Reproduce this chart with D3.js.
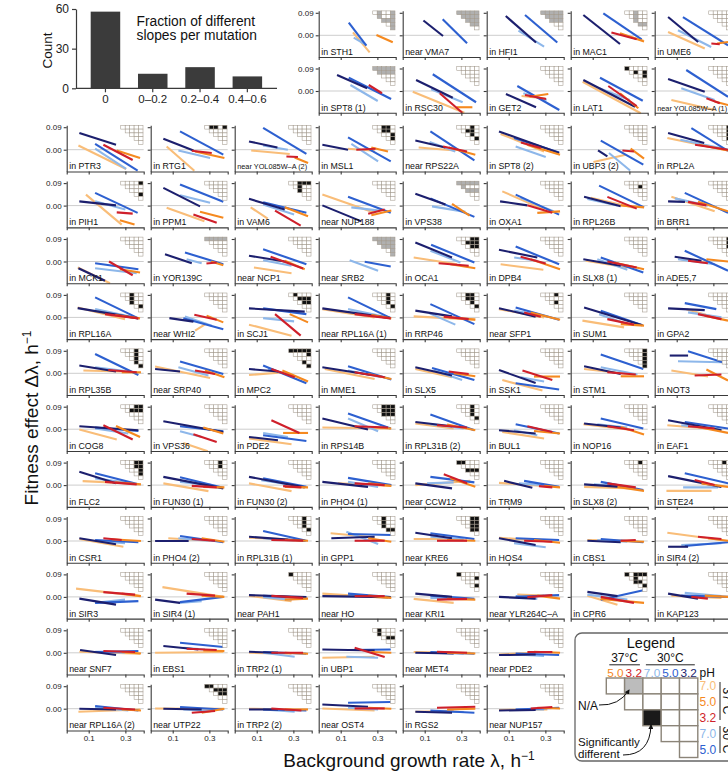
<!DOCTYPE html>
<html><head><meta charset="utf-8">
<script src="https://cdn.jsdelivr.net/npm/d3@7"></script>
<style>
body{margin:0;background:#fff;}
svg{display:block;font-family:"Liberation Sans",Arial,Helvetica,sans-serif;}
</style>
</head><body>
<svg id="chart" width="728" height="777"></svg>
<script>
// ---------------- DATA ----------------
const conditionTemps = ["37°C","37°C","37°C","30°C","30°C","30°C"];
const conditionPH    = ["7.0","5.0","3.2","7.0","5.0","3.2"];

const histCategories = ["0","0–0.2","0.2–0.4","0.4–0.6"];
const histCounts = [58, 11, 16, 9];

const mutations = [
 "in STH1","near VMA7","in HFI1","in MAC1","in UME6",
 "in SPT8 (1)","in RSC30","in GET2","in LAT1","near YOL085W–A (1)",
 "in PTR3","in RTG1","near YOL085W–A (2)","in MSL1","near RPS22A","in SPT8 (2)","in UBP3 (2)","in RPL2A",
 "in PIH1","in PPM1","in VAM6","near NUP188","in VPS38","in OXA1","in RPL26B","in BRR1",
 "in MCK1","in YOR139C","near NCP1","near SRB2","in OCA1","in DPB4","in SLX8 (1)","in ADE5,7",
 "in RPL16A","near WHI2","in SCJ1","near RPL16A (1)","in RRP46","near SFP1","in SUM1","in GPA2",
 "in RPL35B","near SRP40","in MPC2","in MME1","in SLX5","in SSK1","in STM1","in NOT3",
 "in COG8","in VPS36","in PDE2","in RPS14B","in RPL31B (2)","in BUL1","in NOP16","in EAF1",
 "in FLC2","in FUN30 (1)","in FUN30 (2)","in PHO4 (1)","near CCW12","in TRM9","in SLX8 (2)","in STE24",
 "in CSR1","in PHO4 (2)","in RPL31B (1)","in GPP1","near KRE6","in HOS4","in CBS1","in SIR4 (2)",
 "in SIR3","in SIR4 (1)","near PAH1","near HO","near KRI1","near YLR264C–A","in CPR6","in KAP123",
 "near SNF7","in EBS1","in TRP2 (1)","in UBP1","near MET4","near PDE2",
 "near RPL16A (2)","near UTP22","in TRP2 (2)","near OST4","in RGS2","near NUP157"
];

// per mutation, per condition (order of conditionTemps/PH): [x0, x1, y0, y1] or null
const N = null;
const fits = [
 [[.167,.258,.012,-.068],[.295,.384,.001,-.028],N,[.171,.24,-.009,-.039],[.144,.24,.051,-.041],N],
 [N,N,N,N,[.198,.331,.064,-.032],[.093,.2,.059,-.003]],
 [N,N,N,[.153,.293,.019,-.045],[.189,.365,.081,-.029],[.084,.249,.077,-.029]],
 [[.267,.376,.001,-.021],[.249,.38,.008,-.025],[.202,.34,.011,-.016],N,[.158,.367,.088,-.016],[.049,.249,.081,-.035]],
 [[.053,.253,.013,-.053],[.32,.38,-.033,-.027],[.289,.335,-.033,-.036],[.107,.288,.02,-.047],[.134,.38,.073,-.04],[.053,.217,.073,-.027]],
 [N,N,[.253,.325,.024,-.009],[.153,.302,.024,-.04],[.144,.375,.053,-.032],[.08,.244,.064,.011]],
 [[.035,.316,-.003,-.087],[.273,.36,-.065,-.065],[.182,.305,-.009,-.087],[.135,.307,.007,-.045],[.144,.38,.067,-.045],[.053,.253,.044,-.027]],
 [[.17,.30,-.02,-.03],[.213,.316,-.023,-.012],[.189,.304,-.016,-.032],[.18,.307,-.009,-.036],[.147,.376,.02,-.076],[.085,.249,-.012,-.065]],
 [[.045,.362,.037,-.089],[.249,.349,-.009,-.069],[.185,.34,.02,-.06],[.136,.302,.011,-.036],[.14,.373,.053,-.039],[.049,.331,.044,-.063]],
 [[.071,.307,-.036,-.076],[.307,.38,-.042,-.056],[.262,.335,-.029,-.049],[.125,.307,.011,-.036],[.152,.38,.084,-.023],[.053,.253,.048,-.003]],
 [[.044,.304,.017,-.077],[.253,.38,-.003,-.033],[.18,.34,.02,-.041],[.135,.304,.004,-.077],[.135,.367,.023,-.084],[.049,.249,.067,.02]],
 [[.067,.218,.013,-.084],[.222,.382,-.007,-.033],[.204,.313,-.004,-.013],[.131,.304,-.003,-.033],[.14,.376,.073,-.02],[.049,.213,.044,-.003]],
 [[.07,.28,-.003,-.017],[.307,.38,-.031,-.053],[.262,.325,-.027,-.029],[.135,.27,.017,0],[.135,.371,.087,-.017],[.058,.213,.033,.009]],
 [[.14,.285,.004,-.004],[.267,.358,.009,-.007],[.185,.29,0,.004],[.158,.304,.023,-.047],[.14,.373,.049,-.047],[0,.14,.02,0]],
 [[.067,.267,.009,-.003],[.231,.376,.009,-.02],[.2,.331,.013,-.007],[.127,.267,.031,-.007],[.131,.371,.073,-.043],[.049,.213,.037,.009]],
 [[.056,.293,.063,-.007],[.202,.38,.02,-.02],[.167,.275,.029,.007],[.138,.302,.013,-.029],[.129,.375,.047,-.011],[.047,.375,.073,-.013]],
 [[.104,.28,-.049,-.02],[.307,.38,.004,-.036],[.262,.325,-.003,-.007],[.189,.304,-.013,-.083],[.144,.376,.036,-.06],[.129,.18,-.003,-.027]],
 [[.049,.36,.047,0],[.22,.38,.02,-.003],[.2,.38,.02,0],[.12,.38,.04,0],[.18,.38,.086,-.005],[.053,.25,.067,.027]],
 [[.085,.28,.044,-.076],[.27,.35,-.059,-.076],[.253,.34,-.027,-.032],[.135,.3,.017,-.016],[.135,.367,.051,-.029],[.049,.249,.017,.001]],
 [[.067,.273,-.009,-.063],[.249,.376,-.025,-.049],[.213,.34,-.036,-.069],[.14,.304,.041,.011],[.14,.376,.084,.015],[.049,.249,.071,-.003]],
 [[.067,.16,-.007,-.052],[.253,.38,-.007,-.043],[.2,.34,-.02,-.08],[.135,.304,.004,-.036],[.135,.371,.013,-.029],[.058,.253,.027,-.016]],
 [[0,.285,.044,-.029],[.267,.376,-.039,-.02],[.25,.34,-.033,-.016],[.158,.313,-.007,-.02],[.14,.373,.035,-.029],[0,.213,.001,-.063]],
 [N,[.249,.345,.007,-.04],N,[.14,.322,-.003,-.025],[.131,.371,.029,-.045],[.049,.213,.047,.004]],
 [[.065,.293,.057,-.016],[.256,.38,-.029,-.023],[.202,.338,.001,-.029],[.165,.347,.031,-.023],[.138,.375,.044,-.036],[.053,.202,.017,.001]],
 [[.089,.325,.031,-.009],[.253,.38,.001,-.007],[.18,.34,.035,-.012],[.071,.235,.027,.001],[.135,.38,.08,-.007],[.053,.253,.035,-.003]],
 [[.071,.307,.035,-.023],[.216,.38,.015,-.023],[.162,.262,.015,.001],[.09,.27,.029,0],[.144,.38,.051,-.029],[.053,.145,.017,.015]],
 [[.04,.216,-.024,-.087],[.27,.38,-.031,-.044],[.211,.34,0,-.055],[.135,.362,-.027,-.047],[.135,.371,-.007,-.031],[.044,.189,-.027,-.077]],
 [N,[.31,.376,0,-.015],[.284,.34,-.008,-.004],[.176,.258,.009,-.007],[.167,.376,.036,-.011],[.058,.204,.029,-.007]],
 [[.085,.29,-.024,-.047],[.253,.362,.003,-.031],[.176,.353,.019,-.028],[.135,.29,.005,-.017],[.135,.371,.049,-.011],[.058,.253,.023,0]],
 [N,N,N,[.149,.304,.005,-.037],[.231,.373,-.001,-.02],N],
 [[.04,.276,.016,-.011],[.24,.376,-.011,-.027],[.176,.34,-.007,-.017],[.131,.295,.043,-.004],[.135,.371,.067,-.004],[.049,.249,.076,.016]],
 [[.056,.289,-.011,-.033],[.22,.38,.009,-.031],[.165,.302,.019,-.008],[.13,.256,.016,.003],[.138,.375,.06,-.011],[.047,.256,.047,.016]],
 [[.062,.289,.003,-.024],[.216,.38,-.004,-.031],[.18,.34,0,-.024],[.125,.289,.009,-.033],[.144,.376,.016,-.044],[.049,.253,.009,-.017]],
 [[.125,.27,.009,-.004],[.262,.38,.009,0],[.162,.27,.003,-.007],[.107,.307,.009,-.011],[.144,.38,.043,-.037],[.089,.235,.019,.003]],
 [[.04,.298,.04,-.007],[.244,.38,.009,-.004],[.189,.371,.013,-.004],[.135,.371,.033,-.004],[.135,.371,.08,-.004],[.04,.371,.037,-.004]],
 [[.222,.285,-.053,-.024],[.285,.376,.007,-.02],[.218,.34,.011,-.009],[.167,.313,.004,-.033],[.158,.376,-.003,-.047],[.082,.213,-.003,-.017]],
 [[.058,.29,-.029,-.073],[.28,.38,.013,-.02],[.2,.34,.013,-.073],[.135,.304,-.003,-.016],[.135,.371,.036,.013],[.058,.362,.036,.023]],
 [[0,.285,.033,0],[.267,.376,.009,-.004],[.176,.373,.013,-.004],[.14,.373,.033,-.003],[.14,.373,.08,-.003],[0,.373,.036,-.003]],
 [[.04,.376,.004,-.009],[.231,.376,0,-.009],[.204,.34,.003,-.007],[.127,.267,.016,-.029],[.131,.371,.053,-.027],[.049,.249,.027,.004]],
 [[.047,.293,.033,0],[.22,.38,.02,-.009],[.184,.275,.02,.003],[.13,.275,.027,.007],[.138,.375,.04,-.009],[.047,.247,.037,.003]],
 [[.044,.271,-.013,-.04],[.253,.38,-.027,-.033],[.18,.325,-.007,-.029],[.135,.289,.013,-.027],[.144,.371,.027,-.031],[.053,.371,.04,-.031]],
 [[.153,.344,.033,-.007],[.253,.38,.007,-.013],[.216,.344,.013,-.007],[.162,.344,.02,0],[.144,.316,.057,.033],[.053,.253,.036,.029]],
 [[.071,.28,.011,.007],[.28,.385,.004,.004],[.207,.362,.013,.004],[.135,.353,.024,.004],[.135,.371,.077,-.007],[.049,.249,.031,.007]],
 [[.004,.304,.027,-.019],[.276,.382,.011,-.016],[.222,.331,.011,-.003],[.131,.295,.024,-.009],[.14,.376,.047,-.003],[.004,.14,.017,.007]],
 [[.058,.253,-.007,.004],[.24,.38,.011,-.033],[.18,.307,.017,-.016],[.162,.29,.017,-.009],[.135,.371,.031,-.04],[.058,.216,.017,.007]],
 [[.013,.285,.017,-.023],[.25,.376,-.003,-.023],[.176,.34,.004,-.016],[.14,.322,.011,-.016],[.14,.376,.028,-.025],[0,.267,.024,-.007]],
 [[.049,.249,.017,-.016],[.258,.376,0,-.012],[.231,.34,.007,-.003],[.149,.304,.011,-.027],[.14,.371,.021,-.027],[.049,.249,.024,-.009]],
 [[.065,.284,-.027,-.069],[.238,.38,-.013,-.013],[.175,.338,.011,-.027],[.165,.293,-.016,-.033],[.138,.375,-.04,-.065],[.047,.247,.013,-.039]],
 [[.053,.325,.017,-.005],[.253,.38,-.012,-.012],[.18,.335,.004,-.005],[.144,.344,.024,-.005],[.144,.376,.075,.017],[.053,.253,.028,-.003]],
 [[.071,.271,.011,-.013],[.262,.38,.015,-.029],[.198,.344,-.009,-.005],[.107,.344,.048,.044],[.162,.38,.088,.037],[.062,.162,.071,.071]],
 [[.049,.253,-.001,-.041],[.249,.38,.013,-.031],[.18,.34,.016,-.041],[.135,.316,.003,-.017],[.135,.371,.007,-.007],[.049,.371,.012,-.004]],
 [[.158,.291,-.055,-.088],[.267,.376,.007,-.017],[.213,.34,-.02,-.051],[.14,.258,-.008,-.031],[.14,.376,.012,-.008],[.049,.376,.032,-.011]],
 [[.058,.29,-.037,-.06],[.244,.38,-.015,-.015],[.18,.333,.036,-.015],[.135,.27,-.015,-.031],[.135,.371,-.024,-.047],[.058,.216,-.031,-.044]],
 [[0,.373,.007,.003],[.267,.376,.009,.003],[.176,.358,.012,.007],[.14,.304,.043,-.008],[.14,.373,.063,.003],[0,.249,.043,-.001]],
 [[.049,.258,.023,.003],[.222,.376,.019,-.004],[.167,.331,.016,.007],[.131,.313,.02,.003],[.131,.371,.059,-.004],[.049,.249,.029,.012]],
 [[.065,.293,-.011,-.037],[.238,.38,-.007,-.017],[.202,.338,.012,-.011],[.129,.256,-.004,-.024],[.138,.375,.02,-.017],[.047,.247,-.004,-.017]],
 [[.049,.325,.02,-.004],[.253,.38,.009,-.021],[.18,.325,.012,-.004],[.125,.289,.02,.007],[.144,.376,.043,.003],[.053,.253,.023,.007]],
 [[.049,.271,.016,.003],[.216,.38,.009,-.015],[.162,.307,.012,.003],[.125,.344,.016,-.001],[.144,.38,.029,.003],[.053,.344,.036,-.004]],
 [[.067,.28,.016,.009],[.244,.385,.011,.003],[.189,.362,.013,.003],[.135,.335,.027,.007],[.135,.371,.047,.003],[.049,.249,.053,.007]],
 [[.049,.295,.007,-.024],[.267,.382,-.007,-.009],[.204,.34,-.003,-.009],[.14,.313,.013,0],[.14,.376,.031,-.011],[.049,.376,.033,-.013]],
 [[.058,.29,.007,-.024],[.253,.38,-.007,-.009],[.244,.344,-.004,-.009],[.125,.307,.02,0],[.135,.371,.027,-.007],[.058,.362,.033,-.009]],
 [[.085,.376,.007,-.003],[.25,.376,.007,-.003],[.176,.34,.007,0],[.14,.304,.013,-.007],[.14,.376,.029,0],[0,.249,.013,-.007]],
 [[.049,.349,0,.017],[.24,.376,.027,-.007],[.204,.331,.043,.007],[.113,.258,.007,.011],[.131,.371,.033,.011],[.049,.249,.007,-.013]],
 [[.047,.311,.009,-.004],[.293,.38,-.003,-.009],[.265,.338,-.004,-.009],[.156,.293,.007,0],[.184,.375,.017,-.007],[.075,.229,.017,-.011]],
 [[.053,.325,-.007,-.013],[.235,.38,-.007,-.023],[.18,.335,.007,-.009],[.107,.289,.003,-.007],[.144,.376,.013,-.02],[.053,.253,.003,-.007]],
 [[.044,.29,-.023,-.023],[.235,.38,.007,-.007],[.198,.307,.02,0],[.135,.325,-.009,-.009],[.144,.38,.047,.007],[.053,.344,.036,-.007]],
 [[.049,.289,.008,-.023],[.225,.385,.007,0],[.18,.28,.011,.004],[.135,.298,.001,-.009],[.135,.371,.004,-.005],[.049,.249,.011,-.013]],
 [[.076,.304,.011,.001],[.258,.382,.011,-.003],[.204,.331,.008,.001],[.131,.295,.011,.001],[.14,.376,.02,-.005],[.004,.187,0,0]],
 [[.058,.27,.013,.007],[.253,.38,.004,.001],[.18,.353,.004,.001],[.135,.307,.011,.001],[.135,.371,.04,.001],[.058,.362,.017,.001]],
 [[.045,.285,.031,.015],[.25,.376,.011,-.003],[.176,.34,.001,.001],[.131,.304,.037,-.012],[.14,.376,.028,.024],[.049,.285,.011,.017]],
 [[.04,.258,.008,.008],[.222,.376,.004,.001],[.167,.331,.001,.001],[.131,.313,.017,.007],[.131,.371,.031,.008],[.049,.249,.033,.011]],
 [[.047,.275,.013,.001],[.238,.38,.004,-.007],[.184,.338,.001,-.003],[.129,.302,-.009,-.025],[.138,.375,.011,.004],[.047,.247,.011,-.016]],
 [[.071,.325,.004,.001],[.253,.38,0,-.003],[.253,.335,.001,.004],[.125,.289,.004,-.003],[.144,.376,.008,-.005],[.071,.253,.001,-.005]],
 [[.049,.344,.033,.004],[.271,.38,.011,.001],[.216,.344,.017,.008],[.125,.344,-.016,-.009],[.144,.38,-.02,-.005],[.053,.162,-.023,-.023]],
 [[.031,.38,.033,.003],[.28,.385,.013,.003],[.18,.353,.019,.009],[.135,.298,-.024,-.011],[.135,.371,-.024,-.017],[.049,.249,-.007,-.031]],
 [[.044,.376,.039,0],[.258,.382,.005,0],[.176,.331,.013,.005],[.131,.258,-.024,-.017],[.14,.376,-.021,0],[.004,.14,-.011,-.024]],
 [[.058,.29,.004,-.017],[.253,.38,-.011,-.007],[.18,.353,.004,-.004],[.135,.29,-.001,-.011],[.135,.371,.004,-.004],[.058,.371,.007,-.001]],
 [[0,.358,.013,-.004],[.25,.376,.005,-.004],[.176,.34,.003,.003],[.14,.304,.005,0],[.14,.373,.013,-.001],[0,.373,.003,-.001]],
 [[.04,.258,-.008,-.024],[.222,.376,-.008,-.011],[.167,.331,-.011,-.008],[.131,.313,-.004,-.008],[.131,.371,.005,-.008],[.049,.249,.013,0]],
 [[.147,.293,.009,.005],[.256,.38,.005,-.007],[.202,.338,-.001,.007],[.138,.256,.003,-.008],[.138,.375,0,.007],[.047,.247,0,-.007]],
 [[.071,.235,.005,-.031],[.144,.38,-.008,-.024],[.144,.325,0,-.024],[.071,.289,.009,-.011],[.144,.376,-.011,.027],[.071,.235,.02,.003]],
 [[.071,.344,.005,-.004],[.253,.38,.005,0],[.18,.27,0,-.007],[.144,.344,.016,.003],[.125,.38,.005,0],[.053,.216,.013,-.007]],
 [[.049,.38,.004,-.004],[.28,.385,.003,-.003],[.18,.353,.007,.003],[.135,.298,.004,0],[.135,.371,.003,.007],[.053,.249,.011,-.009]],
 [[.004,.376,0,.003],[.267,.382,.009,.007],[.176,.34,.016,.011],[.158,.276,.02,.013],[.14,.376,.04,.023],[.049,.24,.027,.013]],
 [[.058,.29,0,-.004],[.253,.38,0,-.004],[.18,.353,0,0],[.135,.307,0,-.016],[.135,.371,.003,-.004],[.058,.216,.004,0]],
 [[0,.285,-.02,-.016],[.267,.376,.003,0],[.176,.34,.02,-.017],[.131,.304,-.016,-.02],[.14,.373,.011,.013],[0,.285,.013,.009]],
 [[.04,.349,.003,0],[.222,.376,0,-.003],[.167,.331,.004,0],[.131,.313,0,-.004],[.131,.371,.003,-.004],[.049,.258,0,-.003]],
 [[.047,.293,-.007,.003],[.238,.38,.004,0],[.202,.338,.003,.003],[.138,.293,-.007,-.013],[.138,.375,-.003,-.009],[.047,.247,-.009,-.007]],
 [[.044,.38,-.012,-.003],[.28,.385,-.003,-.007],[.18,.353,.004,-.003],[.135,.316,.004,-.007],[.135,.371,.011,-.007],[.049,.249,0,-.003]],
 [[.004,.376,.001,0],[.258,.382,-.016,0],[.204,.331,-.016,-.009],[.158,.313,-.003,-.009],[.14,.376,.007,-.003],[.049,.258,0,-.003]],
 [[.058,.29,0,-.003],[.253,.38,-.003,-.003],[.18,.344,.001,-.007],[.135,.307,-.003,-.012],[.135,.371,-.003,-.007],[.058,.216,-.003,-.003]],
 [[0,.285,.001,-.007],[.25,.376,.004,0],[.176,.34,.001,.001],[.14,.304,.004,-.003],[.14,.373,.024,.027],[0,.249,.017,.008]],
 [[.049,.258,-.012,-.009],[.222,.376,-.003,0],[.167,.376,.004,.008],[.131,.313,-.012,-.013],[.131,.371,-.007,-.016],[.049,.249,-.012,-.016]],
 [[.047,.311,-.005,-.003],[.256,.38,.004,.001],[.22,.338,.001,.007],[.138,.293,-.003,-.003],[.138,.375,-.003,.004],[.047,.247,-.007,-.005]]
];

// significantly different pairs: [row condition index, column index] (column c compares with condition c+1)
const significant = [
 [],[],[],[],[],
 [],[],[],[[0,0],[1,2],[1,4],[2,4]],[],
 [],[[0,1],[0,2],[0,4]],[],[[0,2],[0,3],[1,2],[1,3],[2,4],[3,4]],[[0,3],[1,2],[1,3],[2,3],[3,4]],[],[],[[0,4],[1,4],[2,4],[3,4]],
 [[0,4],[3,4]],[],[[0,2],[0,3],[0,4],[1,2],[2,2]],[],[],[],[[1,3]],[],
 [],[],[],[],[[0,3],[0,4],[1,2],[1,3],[1,4],[2,3],[2,4]],[],[],[[0,4],[1,4],[2,4]],
 [[0,2],[1,2],[2,2],[3,4]],[],[[0,1],[1,2],[1,3],[1,4],[2,3],[2,4]],[[0,3],[1,3],[2,3],[3,4]],[[0,2],[0,3],[1,2],[1,3],[2,3],[3,4]],[[0,3],[2,3]],[],[],
 [[0,3],[1,3],[2,3],[3,3],[4,4]],[],[[0,0],[0,1],[0,2],[0,3],[0,4],[1,4],[3,3],[4,4]],[],[],[],[[0,4],[1,4],[2,4],[3,4],[4,4]],[],
 [[0,3],[0,4],[1,2],[1,3],[1,4]],[],[],[[0,2],[0,3],[0,4],[1,2],[1,3],[1,4],[2,2],[2,3],[2,4]],[[0,3],[1,3],[2,3],[3,4]],[],[],[],
 [[0,3],[0,4],[1,3],[1,4],[2,4],[3,4]],[[0,3],[1,3]],[],[],[[0,0],[0,1],[2,2],[2,3],[2,4]],[],[[0,3]],[[0,3]],
 [],[],[[0,3],[1,3],[2,3],[3,4]],[[0,2],[1,2],[2,2],[3,3],[3,4]],[[0,3],[0,4],[1,3],[1,4],[2,3],[2,4],[3,3],[3,4]],[],[],[],
 [],[],[[0,0]],[],[[0,0],[1,4],[3,4]],[],[[0,0],[0,2],[0,3],[0,4],[1,2],[2,2],[2,3],[3,4]],[],
 [],[],[],[[0,1],[1,1],[2,3],[2,4]],[],[],
 [],[[0,0],[0,1],[1,2],[1,3],[1,4],[2,3],[2,4]],[],[],[],[]
];

// ---------------- STYLE / LAYOUT ----------------
const condColors = ["#f9bd78","#f5891f","#cf1f2a","#8db7ea","#2d60d0","#1c1f6e"];
const drawOrder = [0,3,4,5,1,2];
const svg = d3.select("#chart");
const FONT = '"Liberation Sans",Arial,Helvetica,sans-serif';
const axisColor = "#3a3a3a";

const colX = c => 66.7 + 84 * c;
function slotFor(i) {
  if (i < 10) return {col: 3 + (i % 5), zero: i < 5 ? 35.3 : 91.0, yLab: i % 5 === 0, xLab: false};
  let j = i - 10;
  if (j < 72) return {col: j % 8, zero: 149.7 + 55.9 * Math.floor(j / 8), yLab: j % 8 === 0, xLab: false};
  j -= 72;
  const r = 9 + Math.floor(j / 6);
  return {col: j % 6, zero: 149.7 + 55.9 * r, yLab: j % 6 === 0, xLab: r === 10};
}

const xDomain = [-0.02, 0.40];
const yDomain = [-0.087, 0.098];
const PXY = 250;

mutations.forEach((name, i) => {
  const s = slotFor(i);
  const x0 = colX(s.col);
  const x = d3.scaleLinear().domain(xDomain).range([x0, x0 + 77]);
  const y = d3.scaleLinear().domain(yDomain).range([s.zero - yDomain[0]*PXY, s.zero - yDomain[1]*PXY]);
  const g = svg.append("g");

  g.append("line").attr("x1", x(xDomain[0])).attr("x2", x(xDomain[1]))
    .attr("y1", y(0)).attr("y2", y(0)).attr("stroke", "#cdcdcd").attr("stroke-width", 1);

  const f = fits[i];
  drawOrder.forEach(k => {
    const d = f[k];
    if (!d) return;
    g.append("line").attr("x1", x(d[0])).attr("x2", x(d[1]))
      .attr("y1", y(d[2])).attr("y2", y(d[3]))
      .attr("stroke", condColors[k]).attr("stroke-width", 2.1).attr("stroke-linecap", "butt");
  });

  const ya = d3.axisLeft(y).tickValues([0, 0.09]).tickSize(3).tickSizeOuter(0).tickPadding(2)
    .tickFormat(s.yLab ? d3.format(".2f") : () => "");
  const gy = g.append("g").attr("transform", `translate(${x0},0)`).call(ya);
  const xa = d3.axisBottom(x).tickValues([0.1, 0.3]).tickSize(3).tickSizeOuter(3).tickPadding(2)
    .tickFormat(s.xLab ? d3.format(".1f") : () => "");
  const gx = g.append("g").attr("transform", `translate(0,${y(yDomain[0])})`).call(xa);
  [gy, gx].forEach(a => {
    a.selectAll("path,line").attr("stroke", axisColor).attr("stroke-width", 1.1);
    a.selectAll("text").attr("font-size", 8).attr("font-family", FONT).attr("fill", "#222");
  });

  const t = g.append("text").attr("x", x0 + 2.5).attr("y", s.zero + 19.6)
    .attr("font-size", 8.8).attr("font-family", FONT).attr("fill", "#111").text(name);
  const len = t.node().getComputedTextLength();
  if (len > 70) t.attr("font-size", 8.8 * 70 / len);

  const present = f.map(d => d !== null);
  const mx = d3.scaleBand().domain(d3.range(5)).range([x0 + 54.05, x0 + 76.3]);
  const my = d3.scaleBand().domain(d3.range(5)).range([s.zero - 24.4, s.zero - 24.4 + 19]);
  const sig = new Set(significant[i].map(p => p[0] + "," + p[1]));
  for (let r = 0; r < 5; r++) for (let c = r; c < 5; c++) {
    let fill = "#fff";
    if (!present[r] || !present[c + 1]) fill = "#b0b0b0";
    if (sig.has(r + "," + c)) fill = "#111";
    g.append("rect").attr("x", mx(c)).attr("y", my(r)).attr("width", mx.bandwidth()).attr("height", my.bandwidth())
      .attr("fill", fill).attr("stroke", "#a39a8e").attr("stroke-width", 0.55);
  }
});

// ---------------- HISTOGRAM ----------------
{
  const hx = d3.scaleBand().domain(histCategories).range([81.8, 271]).paddingInner(0.376).paddingOuter(0.188);
  const hy = d3.scaleLinear().domain([0, 60]).range([88.3, 9]);
  const g = svg.append("g");
  g.selectAll("rect.bar").data(histCounts).enter().append("rect")
    .attr("x", (d, i) => hx(histCategories[i])).attr("width", hx.bandwidth())
    .attr("y", d => hy(d)).attr("height", d => hy(0) - hy(d)).attr("fill", "#3b3b3b");
  const ay = g.append("g").attr("transform", "translate(76,0)")
    .call(d3.axisLeft(hy).tickValues([0, 30, 60]).tickSize(4).tickSizeOuter(0).tickPadding(3));
  const ax = g.append("g").attr("transform", `translate(0,${hy(0)})`)
    .call(d3.axisBottom(hx).tickSize(4).tickSizeOuter(0).tickPadding(3));
  ax.select(".domain").attr("d", `M76,0H277`);
  [ay, ax].forEach(a => {
    a.selectAll("path,line").attr("stroke", axisColor).attr("stroke-width", 1.2);
    a.selectAll("text").attr("font-family", FONT).attr("fill", "#222");
  });
  ay.selectAll("text").attr("font-size", 12);
  ax.selectAll("text").attr("font-size", 11.5);
  g.append("text").attr("transform", "translate(52,50.5) rotate(-90)").attr("text-anchor", "middle")
    .attr("font-size", 13.5).attr("font-family", FONT).attr("fill", "#111").text("Count");
  g.append("text").attr("x", 136.5).attr("y", 26).attr("font-size", 13.8).attr("font-family", FONT).attr("fill", "#111").text("Fraction of different");
  g.append("text").attr("x", 136.5).attr("y", 40.3).attr("font-size", 13.8).attr("font-family", FONT).attr("fill", "#111").text("slopes per mutation");
}

// ---------------- AXIS TITLES ----------------
{
  const t1 = svg.append("text").attr("x", 409).attr("y", 767).attr("text-anchor", "middle")
    .attr("font-size", 19).attr("font-family", FONT).attr("fill", "#111");
  t1.append("tspan").text("Background growth rate λ, h");
  t1.append("tspan").attr("font-size", 12).attr("dy", -7).text("−1");
  const t2 = svg.append("text").attr("transform", "translate(38,418) rotate(-90)").attr("text-anchor", "middle")
    .attr("font-size", 19).attr("font-family", FONT).attr("fill", "#111");
  t2.append("tspan").text("Fitness effect Δλ, h");
  t2.append("tspan").attr("font-size", 12).attr("dy", -7).text("−1");
}

// ---------------- LEGEND ----------------
{
  const g = svg.append("g").attr("font-family", FONT);
  g.append("rect").attr("x", 575).attr("y", 633).attr("width", 170).attr("height", 128).attr("rx", 7)
    .attr("fill", "#fff").attr("stroke", "#666").attr("stroke-width", 1.3);
  g.append("text").attr("x", 651).attr("y", 648).attr("text-anchor", "middle").attr("font-size", 14.5).attr("fill", "#111").text("Legend");
  const lx = d3.scaleBand().domain(d3.range(5)).range([606.3, 697.8]);
  const ly = d3.scaleBand().domain(d3.range(5)).range([678, 757.5]);
  const hdr = [["37°C", 0, 1], ["30°C", 2, 4]];
  hdr.forEach(([t, a, b]) => {
    const cx = (lx(a) + lx(b) + lx.bandwidth()) / 2;
    g.append("text").attr("x", cx).attr("y", 662).attr("text-anchor", "middle").attr("font-size", 12).attr("fill", "#111").text(t);
    g.append("line").attr("x1", lx(a) + 3).attr("x2", lx(b) + lx.bandwidth() - 3).attr("y1", 664.8).attr("y2", 664.8)
      .attr("stroke", "#222").attr("stroke-width", 1);
  });
  for (let c = 0; c < 5; c++) {
    g.append("text").attr("x", lx(c) + lx.bandwidth() / 2).attr("y", 676.5).attr("text-anchor", "middle")
      .attr("font-size", 11.8).attr("fill", condColors[c + 1]).text(conditionPH[c + 1]);
  }
  g.append("text").attr("x", 699.5).attr("y", 676.5).attr("font-size", 12).attr("fill", "#111").text("pH");
  for (let r = 0; r < 5; r++) {
    g.append("text").attr("x", 699.5).attr("y", ly(r) + ly.bandwidth() / 2 + 4.5)
      .attr("font-size", 12).attr("fill", condColors[r]).text(conditionPH[r]);
  }
  g.append("line").attr("x1", 720).attr("x2", 720).attr("y1", 682).attr("y2", 720).attr("stroke", "#222").attr("stroke-width", 1);
  g.append("line").attr("x1", 720).attr("x2", 720).attr("y1", 726).attr("y2", 753).attr("stroke", "#222").attr("stroke-width", 1);
  g.append("text").attr("transform", "translate(722.5,701) rotate(90)").attr("text-anchor", "middle").attr("font-size", 12).attr("fill", "#111").text(conditionTemps[0]);
  g.append("text").attr("transform", "translate(722.5,740) rotate(90)").attr("text-anchor", "middle").attr("font-size", 12).attr("fill", "#111").text(conditionTemps[3]);
  for (let r = 0; r < 5; r++) for (let c = r; c < 5; c++) {
    let fill = "#fff";
    if (r === 0 && c === 1) fill = "#bcbcbc";
    if (r === 2 && c === 2) fill = "#1a1a1a";
    g.append("rect").attr("x", lx(c)).attr("y", ly(r)).attr("width", lx.bandwidth()).attr("height", ly.bandwidth())
      .attr("fill", fill).attr("stroke", "#8b8478").attr("stroke-width", 1.4);
  }
  const defs = svg.append("defs");
  defs.append("marker").attr("id", "ah").attr("viewBox", "0 0 10 10").attr("refX", 8).attr("refY", 5)
    .attr("markerWidth", 5).attr("markerHeight", 5).attr("orient", "auto-start-reverse")
    .append("path").attr("d", "M0,0L10,5L0,10z").attr("fill", "#111");
  g.append("text").attr("x", 578).attr("y", 709.5).attr("font-size", 12).attr("fill", "#111").text("N/A");
  g.append("path").attr("d", "M599,705 Q619,706 629,690").attr("fill", "none").attr("stroke", "#111").attr("stroke-width", 1).attr("marker-end", "url(#ah)");
  g.append("text").attr("x", 578).attr("y", 746).attr("font-size", 11.6).attr("fill", "#111").text("Significantly");
  g.append("text").attr("x", 578).attr("y", 758).attr("font-size", 11.6).attr("fill", "#111").text("different");
  g.append("path").attr("d", "M623,755 Q650,755 651,725").attr("fill", "none").attr("stroke", "#111").attr("stroke-width", 1).attr("marker-end", "url(#ah)");
}
</script>
</body></html>
